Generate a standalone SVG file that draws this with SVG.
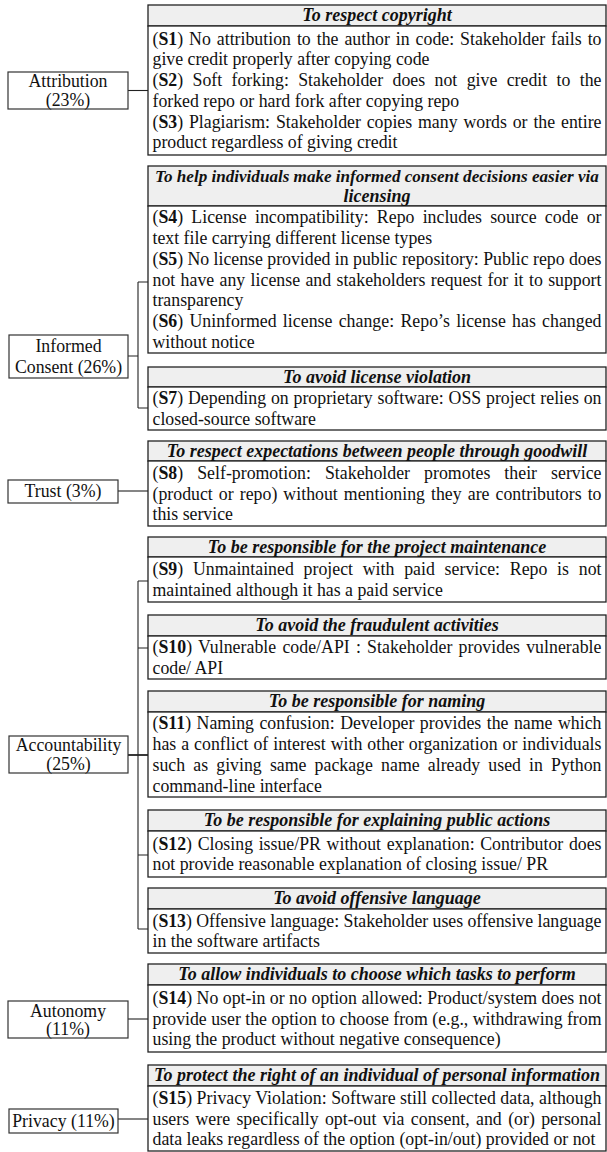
<svg xmlns="http://www.w3.org/2000/svg" width="607" height="1152" viewBox="0 0 607 1152">
<style>
.hdr{fill:#efefef;stroke:#222;stroke-width:1.3}
.cnt{fill:#fff;stroke:#222;stroke-width:1.3}
.lbl{fill:#fff;stroke:#333;stroke-width:1.2}
.t{font-family:"Liberation Serif","Times New Roman",serif;font-size:17.8px;fill:#111}
.h{font-weight:bold;font-style:italic;text-anchor:middle;font-size:18px}
.c{text-anchor:middle}
.b{font-weight:bold}
.conn{stroke:#222;stroke-width:1.1;fill:none}
.thick{stroke-width:1.8}
</style>
<rect width="607" height="1152" fill="#fff"/>
<g id="connectors">
<path class="conn" d="M128 90.5H148"/>
<path class="conn" d="M128 356H138M138 282V408M138 282H148M138 408H148"/>
<path class="conn" d="M118 491H148"/>
<path class="conn" d="M138 581V929M138 581H148M138 648H148M138 855H148M138 929H148"/>
<path class="conn thick" d="M128 755H148"/>
<path class="conn" d="M128 1019H148"/>
<path class="conn" d="M118 1119H148"/>
</g>
<g id="attribution">
<rect class="lbl" x="8" y="72" width="120" height="37"/>
<text class="t c" x="68" y="87">Attribution</text>
<text class="t c" x="68" y="105.5">(23%)</text>
</g>
<g id="informed-consent">
<rect class="lbl" x="9" y="335" width="119" height="43"/>
<text class="t c" x="68.5" y="352">Informed</text>
<text class="t c" x="68.5" y="373">Consent (26%)</text>
</g>
<g id="trust">
<rect class="lbl" x="8" y="480" width="110" height="23"/>
<text class="t c" x="63" y="497">Trust (3%)</text>
</g>
<g id="accountability">
<rect class="lbl" x="9" y="736" width="119" height="37"/>
<text class="t c" x="68.5" y="751">Accountability</text>
<text class="t c" x="68.5" y="770">(25%)</text>
</g>
<g id="autonomy">
<rect class="lbl" x="8" y="1001" width="120" height="37"/>
<text class="t c" x="68" y="1016.5">Autonomy</text>
<text class="t c" x="68" y="1035">(11%)</text>
</g>
<g id="privacy">
<rect class="lbl" x="9" y="1109" width="109" height="24"/>
<text class="t c" x="63.5" y="1127">Privacy (11%)</text>
</g>
<g id="copyright">
<rect class="hdr" x="148" y="5" width="458" height="21"/>
<rect class="cnt" x="148" y="26" width="458" height="129"/>
<text class="t h" x="377" y="21">To respect copyright</text>
<text class="t" x="152.5" y="44.7" textLength="449" lengthAdjust="spacing" word-spacing="1.5">(<tspan class="b">S1</tspan>) No attribution to the author in code: Stakeholder fails to</text>
<text class="t" x="152.5" y="65.4">give credit properly after copying code</text>
<text class="t" x="152.5" y="86.1" textLength="449" lengthAdjust="spacing" word-spacing="4.9">(<tspan class="b">S2</tspan>) Soft forking: Stakeholder does not give credit to the</text>
<text class="t" x="152.5" y="106.8">forked repo or hard fork after copying repo</text>
<text class="t" x="152.5" y="127.5" textLength="449" lengthAdjust="spacing" word-spacing="1.4">(<tspan class="b">S3</tspan>) Plagiarism: Stakeholder copies many words or the entire</text>
<text class="t" x="152.5" y="148.2">product regardless of giving credit</text>
</g>
<g id="licensing">
<rect class="hdr" x="148" y="166" width="458" height="40"/>
<rect class="cnt" x="148" y="206" width="458" height="147"/>
<text class="t h" x="377" y="182" style="font-size:17.1px">To help individuals make informed consent decisions easier via</text>
<text class="t h" x="377" y="202">licensing</text>
<text class="t" x="152.5" y="223.4" textLength="449" lengthAdjust="spacing" word-spacing="3.8">(<tspan class="b">S4</tspan>) License incompatibility: Repo includes source code or</text>
<text class="t" x="152.5" y="244.1">text file carrying different license types</text>
<text class="t" x="152.5" y="264.8" textLength="449" lengthAdjust="spacing">(<tspan class="b">S5</tspan>) No license provided in public repository: Public repo does</text>
<text class="t" x="152.5" y="285.5" textLength="449" lengthAdjust="spacing" word-spacing="0.9">not have any license and stakeholders request for it to support</text>
<text class="t" x="152.5" y="306.2">transparency</text>
<text class="t" x="152.5" y="326.9" textLength="449" lengthAdjust="spacing" word-spacing="1.8">(<tspan class="b">S6</tspan>) Uninformed license change: Repo’s license has changed</text>
<text class="t" x="152.5" y="347.6">without notice</text>
</g>
<g id="license-violation">
<rect class="hdr" x="148" y="367" width="458" height="20"/>
<rect class="cnt" x="148" y="387" width="458" height="43"/>
<text class="t h" x="377" y="383">To avoid license violation</text>
<text class="t" x="152.5" y="404.1" textLength="449" lengthAdjust="spacing" word-spacing="0.4">(<tspan class="b">S7</tspan>) Depending on proprietary software: OSS project relies on</text>
<text class="t" x="152.5" y="424.8">closed-source software</text>
</g>
<g id="goodwill">
<rect class="hdr" x="148" y="441" width="458" height="20"/>
<rect class="cnt" x="148" y="461" width="458" height="65"/>
<text class="t h" x="377" y="457">To respect expectations between people through goodwill</text>
<text class="t" x="152.5" y="478.8" textLength="449" lengthAdjust="spacing" word-spacing="9.6">(<tspan class="b">S8</tspan>) Self-promotion: Stakeholder promotes their service</text>
<text class="t" x="152.5" y="499.5" textLength="449" lengthAdjust="spacing" word-spacing="1.6">(product or repo) without mentioning they are contributors to</text>
<text class="t" x="152.5" y="520.2">this service</text>
</g>
<g id="maintenance">
<rect class="hdr" x="148" y="537" width="458" height="20"/>
<rect class="cnt" x="148" y="557" width="458" height="45"/>
<text class="t h" x="377" y="553">To be responsible for the project maintenance</text>
<text class="t" x="152.5" y="575.1" textLength="449" lengthAdjust="spacing" word-spacing="5.3">(<tspan class="b">S9</tspan>) Unmaintained project with paid service: Repo is not</text>
<text class="t" x="152.5" y="595.8">maintained although it has a paid service</text>
</g>
<g id="fraudulent">
<rect class="hdr" x="148" y="615" width="458" height="21"/>
<rect class="cnt" x="148" y="636" width="458" height="43"/>
<text class="t h" x="377" y="631">To avoid the fraudulent activities</text>
<text class="t" x="152.5" y="653.1" textLength="449" lengthAdjust="spacing" word-spacing="1.7">(<tspan class="b">S10</tspan>) Vulnerable code/API : Stakeholder provides vulnerable</text>
<text class="t" x="152.5" y="673.8">code/ API</text>
</g>
<g id="naming">
<rect class="hdr" x="148" y="691" width="458" height="21"/>
<rect class="cnt" x="148" y="712" width="458" height="85"/>
<text class="t h" x="377" y="707">To be responsible for naming</text>
<text class="t" x="152.5" y="729.4" textLength="449" lengthAdjust="spacing" word-spacing="0.9">(<tspan class="b">S11</tspan>) Naming confusion: Developer provides the name which</text>
<text class="t" x="152.5" y="750.1" textLength="449" lengthAdjust="spacing" word-spacing="0.5">has a conflict of interest with other organization or individuals</text>
<text class="t" x="152.5" y="770.8" textLength="449" lengthAdjust="spacing" word-spacing="3.7">such as giving same package name already used in Python</text>
<text class="t" x="152.5" y="791.5">command-line interface</text>
</g>
<g id="public-actions">
<rect class="hdr" x="148" y="810" width="458" height="21"/>
<rect class="cnt" x="148" y="831" width="458" height="46"/>
<text class="t h" x="377" y="826">To be responsible for explaining public actions</text>
<text class="t" x="152.5" y="849.6" textLength="449" lengthAdjust="spacing" word-spacing="1.2">(<tspan class="b">S12</tspan>) Closing issue/PR without explanation: Contributor does</text>
<text class="t" x="152.5" y="870.3">not provide reasonable explanation of closing issue/ PR</text>
</g>
<g id="offensive-language">
<rect class="hdr" x="148" y="888" width="458" height="21"/>
<rect class="cnt" x="148" y="909" width="458" height="44"/>
<text class="t h" x="377" y="904">To avoid offensive language</text>
<text class="t" x="152.5" y="926.6" textLength="449" lengthAdjust="spacing">(<tspan class="b">S13</tspan>) Offensive language: Stakeholder uses offensive language</text>
<text class="t" x="152.5" y="947.3">in the software artifacts</text>
</g>
<g id="tasks">
<rect class="hdr" x="148" y="964" width="458" height="21"/>
<rect class="cnt" x="148" y="985" width="458" height="67"/>
<text class="t h" x="377" y="980">To allow individuals to choose which tasks to perform</text>
<text class="t" x="152.5" y="1003.8" textLength="449" lengthAdjust="spacing">(<tspan class="b">S14</tspan>) No opt-in or no option allowed: Product/system does not</text>
<text class="t" x="152.5" y="1024.5" textLength="449" lengthAdjust="spacing">provide user the option to choose from (e.g., withdrawing from</text>
<text class="t" x="152.5" y="1045.2">using the product without negative consequence)</text>
</g>
<g id="personal-information">
<rect class="hdr" x="148" y="1065" width="458" height="21"/>
<rect class="cnt" x="148" y="1086" width="458" height="65"/>
<text class="t h" x="377" y="1081">To protect the right of an individual of personal information</text>
<text class="t" x="152.5" y="1103.8" textLength="449" lengthAdjust="spacing">(<tspan class="b">S15</tspan>) Privacy Violation: Software still collected data, although</text>
<text class="t" x="152.5" y="1124.5" textLength="449" lengthAdjust="spacing" word-spacing="1.9">users were specifically opt-out via consent, and (or) personal</text>
<text class="t" x="152.5" y="1145.2">data leaks regardless of the option (opt-in/out) provided or not</text>
</g>
</svg>
